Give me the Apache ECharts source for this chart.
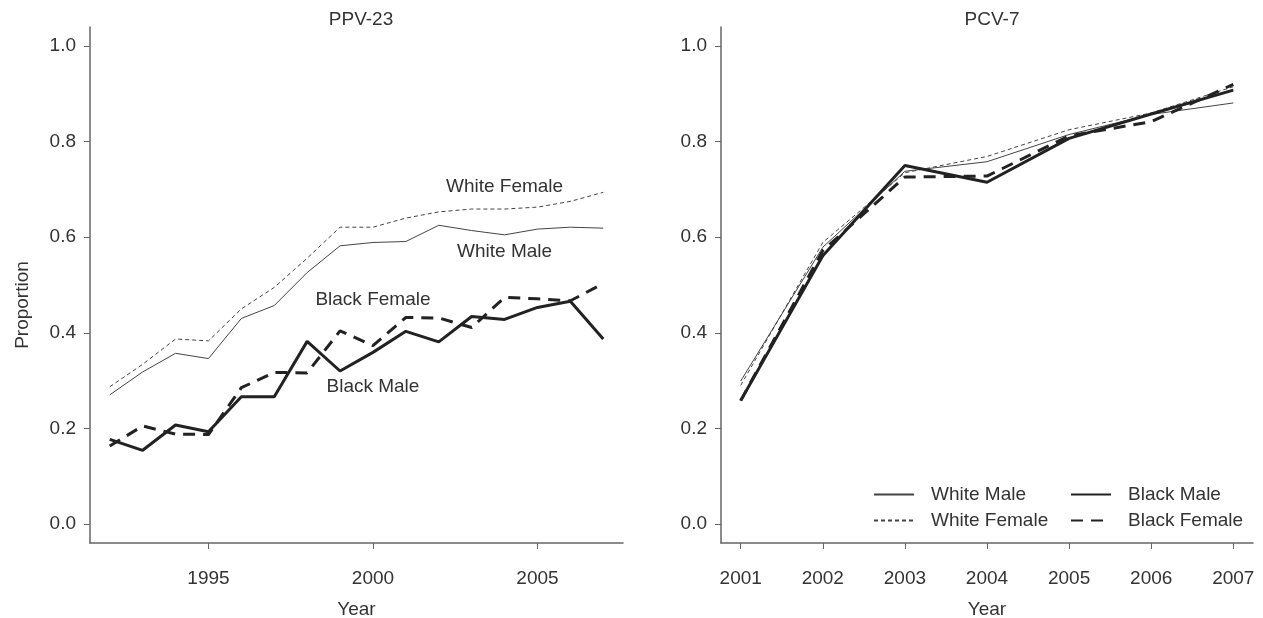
<!DOCTYPE html>
<html>
<head>
<meta charset="utf-8">
<script src="https://cdn.jsdelivr.net/npm/echarts@6/dist/echarts.min.js"></script>
<style>
  html, body { margin: 0; padding: 0; background: #fff; }
  #main { width: 1263px; height: 618px; }
</style>
</head>
<body>
<div id="main"></div>
<script>
// PPV-23 panel
var ppvYears = [1992,1993,1994,1995,1996,1997,1998,1999,2000,2001,2002,2003,2004,2005,2006,2007];
var ppvWhiteMale   = [0.270,0.318,0.357,0.346,0.430,0.457,0.526,0.582,0.589,0.591,0.625,0.614,0.605,0.617,0.621,0.619];
var ppvWhiteFemale = [0.287,0.334,0.387,0.383,0.450,0.495,0.556,0.621,0.621,0.640,0.653,0.659,0.659,0.663,0.675,0.694];
var ppvBlackMale   = [0.177,0.154,0.207,0.193,0.266,0.266,0.382,0.320,0.359,0.403,0.381,0.434,0.428,0.453,0.466,0.387];
var ppvBlackFemale = [0.163,0.205,0.188,0.187,0.285,0.317,0.316,0.404,0.373,0.432,0.431,0.411,0.474,0.471,0.467,0.503];

// PCV-7 panel
var pcvYears = [2001,2002,2003,2004,2005,2006,2007];
var pcvWhiteMale   = [0.299,0.579,0.738,0.758,0.815,0.857,0.881];
var pcvWhiteFemale = [0.290,0.589,0.735,0.769,0.825,0.860,0.915];
var pcvBlackMale   = [0.258,0.561,0.750,0.715,0.807,0.858,0.908];
var pcvBlackFemale = [0.258,0.572,0.726,0.728,0.812,0.842,0.920];

var yTicks = [0, 0.2, 0.4, 0.6, 0.8, 1.0];
var ppvTicks = [1995, 2000, 2005];
var pcvTicks = [2001, 2002, 2003, 2004, 2005, 2006, 2007];

// text labels inside the PPV-23 panel [x, y]
var lblWhiteFemale = [2004.0, 0.706];
var lblWhiteMale = [2004.0, 0.570];
var lblBlackFemale = [2000.0, 0.469];
var lblBlackMale = [2000.0, 0.287];

var FONT = 'Liberation Sans, Arial, sans-serif';
var TXT = '#333';
var FS = 19;

function pairs(xs, ys) {
  return xs.map(function (x, i) { return [x, ys[i]]; });
}

var styles = {
  'White Male':   { color: '#444', width: 1,   type: 'solid' },
  'White Female': { color: '#444', width: 1,   type: [4, 3] },
  'Black Male':   { color: '#222', width: 3,   type: 'solid' },
  'Black Female': { color: '#222', width: 3,   type: [12, 8] }
};

function lineSeries(name, xs, ys, idx, lbl) {
  var s = styles[name];
  var o = {
    name: name,
    type: 'line',
    xAxisIndex: idx,
    yAxisIndex: idx,
    data: pairs(xs, ys),
    symbol: 'none',
    showSymbol: false,
    animation: false,
    itemStyle: { color: s.color },
    lineStyle: { color: s.color, width: s.width, type: s.type }
  };
  if (lbl) {
    o.markPoint = {
      symbol: 'circle',
      symbolSize: 0,
      silent: true,
      animation: false,
      label: { show: true, position: 'inside', formatter: '{b}', color: TXT, fontSize: FS, fontFamily: FONT },
      data: [{ name: name, coord: lbl }]
    };
  }
  return o;
}

function xAxis(idx, min, max, ticks) {
  return {
    type: 'value', gridIndex: idx, min: min, max: max,
    name: 'Year', nameLocation: 'middle', nameGap: 57,
    nameTextStyle: { color: TXT, fontSize: FS, fontFamily: FONT },
    axisLine: { show: true, onZero: false, lineStyle: { color: '#666', width: 1.5 } },
    axisTick: { show: true, length: 6, customValues: ticks, lineStyle: { color: '#666' } },
    axisLabel: {
      show: true, customValues: ticks, margin: 26, color: TXT, fontSize: FS, fontFamily: FONT,
      formatter: function (v) { return String(Math.round(v)); }
    },
    splitLine: { show: false }
  };
}

function yAxis(idx, withName) {
  return {
    type: 'value', gridIndex: idx, min: -0.04, max: 1.04,
    name: withName ? 'Proportion' : '', nameLocation: 'middle', nameGap: 58,
    nameTextStyle: { color: TXT, fontSize: FS, fontFamily: FONT, padding: [0, 40, 0, 0] },
    axisLine: { show: true, onZero: false, lineStyle: { color: '#666', width: 1.5 } },
    axisTick: { show: true, length: 6, customValues: yTicks, lineStyle: { color: '#666' } },
    axisLabel: {
      show: true, customValues: yTicks, margin: 14, color: TXT, fontSize: FS, fontFamily: FONT,
      formatter: function (v) { return v.toFixed(1); }
    },
    splitLine: { show: false }
  };
}

var legendBase = {
  orient: 'vertical', top: 480, itemWidth: 40, itemHeight: 14, itemGap: 7, selectedMode: false,
  itemStyle: { color: 'rgba(0,0,0,0)', borderWidth: 0, opacity: 0 },
  textStyle: { color: TXT, fontSize: FS, fontFamily: FONT, lineHeight: 19, padding: [0, 0, 0, 12] }
};

var chart = echarts.init(document.getElementById('main'));
var option = {
  backgroundColor: '#fff',
  animation: false,
  title: [
    { text: 'PPV-23', left: 356, top: 5, textAlign: 'center', textStyle: { color: TXT, fontSize: FS, fontWeight: 'normal', fontFamily: FONT } },
    { text: 'PCV-7', left: 987, top: 5, textAlign: 'center', textStyle: { color: TXT, fontSize: FS, fontWeight: 'normal', fontFamily: FONT } }
  ],
  grid: [
    { left: 90, top: 27, width: 533, height: 516, outerBoundsMode: 'none', containLabel: false },
    { left: 721, top: 27, width: 532, height: 516, outerBoundsMode: 'none', containLabel: false }
  ],
  xAxis: [
    xAxis(0, 1991.4, 2007.6, ppvTicks),
    xAxis(1, 2000.76, 2007.24, pcvTicks)
  ],
  yAxis: [yAxis(0, true), yAxis(1, false)],
  legend: [
    Object.assign({}, legendBase, { data: ['White Male', 'White Female'], left: 868 }),
    Object.assign({}, legendBase, { data: ['Black Male', 'Black Female'], left: 1065 })
  ],
  series: [
    lineSeries('White Male', ppvYears, ppvWhiteMale, 0, lblWhiteMale),
    lineSeries('White Female', ppvYears, ppvWhiteFemale, 0, lblWhiteFemale),
    lineSeries('Black Male', ppvYears, ppvBlackMale, 0, lblBlackMale),
    lineSeries('Black Female', ppvYears, ppvBlackFemale, 0, lblBlackFemale),
    lineSeries('White Male', pcvYears, pcvWhiteMale, 1),
    lineSeries('White Female', pcvYears, pcvWhiteFemale, 1),
    lineSeries('Black Male', pcvYears, pcvBlackMale, 1),
    lineSeries('Black Female', pcvYears, pcvBlackFemale, 1)
  ]
};
chart.setOption(option);
</script>
</body>
</html>
